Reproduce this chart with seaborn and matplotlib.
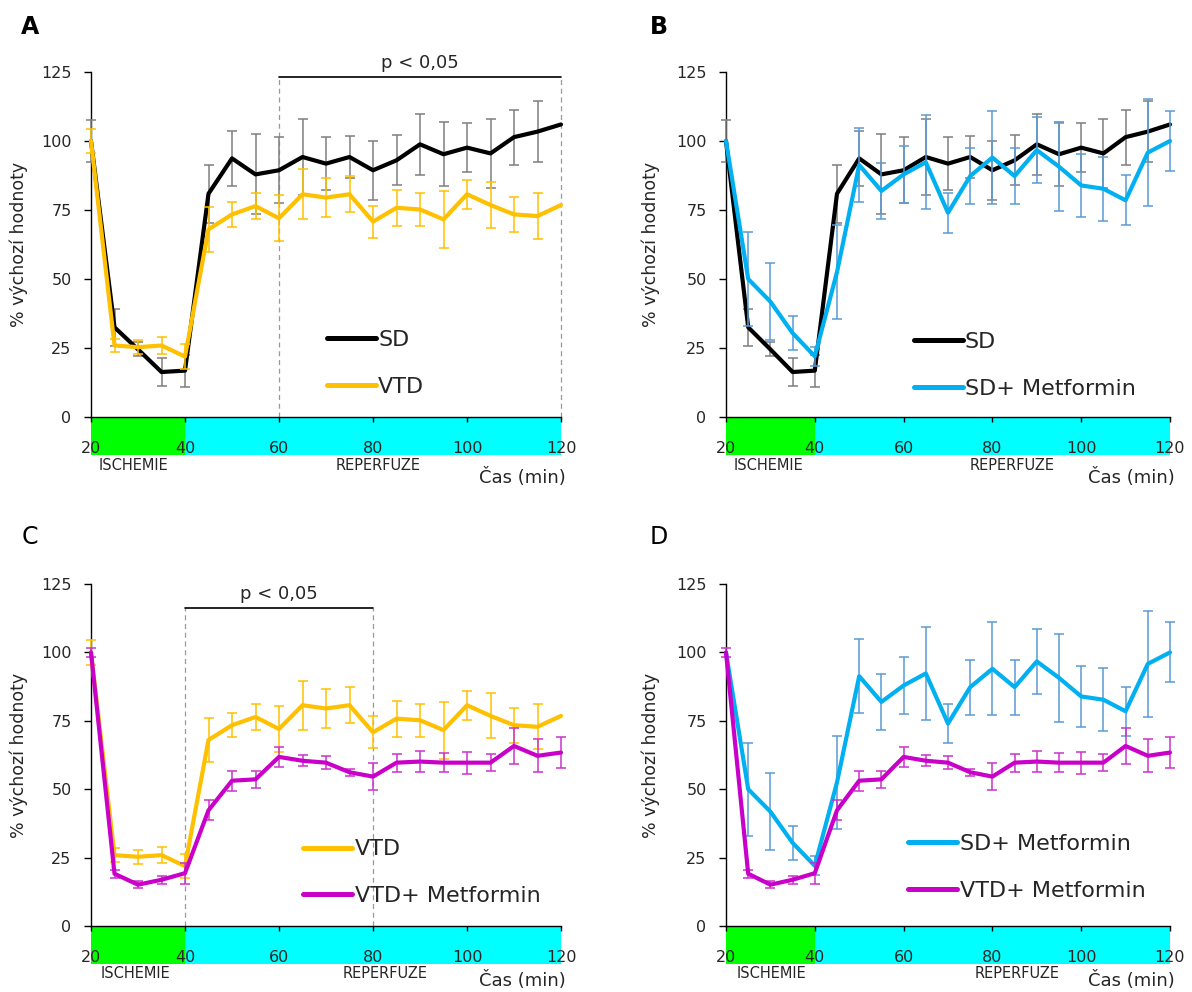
import matplotlib
matplotlib.use("Agg")
import matplotlib.pyplot as plt
from matplotlib.patches import Rectangle
from matplotlib.lines import Line2D
import numpy as np
import pandas as pd
import seaborn as sns

# Time points (min) and group means / SEM (% of baseline)
time_min = list(range(20, 121, 5))

sd_mean = [100, 32.5, 24.5, 16.3, 16.8, 80.9, 93.7, 87.9, 89.4, 94.2, 91.8,
           94.2, 89.4, 93.0, 98.8, 95.2, 97.6, 95.5, 101.4, 103.4, 106.0]
sd_err = [7.5, 6.8, 2.5, 5.0, 5.8, 10.5, 10.0, 14.5, 12.0, 13.8, 9.5,
          7.7, 10.6, 9.0, 11.0, 11.6, 9.0, 12.5, 10.0, 11.0, 0]

vtd_mean = [100, 25.9, 25.3, 25.9, 21.9, 68.0, 73.4, 76.4, 72.0, 80.7, 79.5,
            80.7, 70.8, 75.8, 75.2, 71.6, 80.7, 76.8, 73.4, 72.8, 76.8]
vtd_err = [4.5, 2.5, 2.5, 3.0, 4.5, 8.2, 4.5, 4.8, 8.3, 9.0, 7.2,
           6.6, 5.8, 6.6, 6.0, 10.4, 5.3, 8.2, 6.4, 8.2, 0]

sdm_mean = [100, 50.0, 41.8, 30.4, 22.0, 52.5, 91.3, 81.9, 87.9, 92.3, 74.0,
            87.3, 94.0, 87.3, 96.7, 90.7, 83.9, 82.7, 78.5, 95.8, 100.0]
sdm_err = [0, 17.0, 14.0, 6.2, 3.5, 17.0, 13.5, 10.3, 10.4, 17.0, 7.2,
           10.0, 17.0, 10.0, 12.0, 16.0, 11.3, 11.6, 9.0, 19.5, 11.0]

vtdm_mean = [100, 19.1, 15.1, 16.9, 19.3, 42.3, 53.1, 53.6, 61.8, 60.4, 59.7,
             56.2, 54.6, 59.7, 60.1, 59.7, 59.7, 59.7, 65.8, 62.2, 63.4]
vtdm_err = [1.5, 1.5, 1.2, 1.5, 3.8, 3.6, 3.6, 3.0, 3.6, 2.0, 2.4,
            1.3, 5.0, 3.3, 3.8, 3.4, 4.0, 3.0, 6.5, 6.0, 5.5]

group_labels = ["SD", "VTD", "SD+ Metformin", "VTD+ Metformin"]
line_colors = ["#000000", "#FFC000", "#00B0F0", "#C800C8"]
err_colors = ["#7F7F7F", "#FFC000", "#5B9BD5", "#CC33CC"]

y_ticks = [0, 25, 50, 75, 100, 125]
x_ticks = [20, 40, 60, 80, 100, 120]

frames = []
for lab, m, e in zip(group_labels, [sd_mean, vtd_mean, sdm_mean, vtdm_mean],
                     [sd_err, vtd_err, sdm_err, vtdm_err]):
    frames.append(pd.DataFrame({"time": time_min, "mean": m, "sem": e, "group": lab}))
df = pd.concat(frames, ignore_index=True)
style = {g: (lc, ec) for g, lc, ec in zip(group_labels, line_colors, err_colors)}

sns.set_theme(style="ticks")
plt.rcParams["font.family"] = ["DejaVu Sans"]
plt.rcParams["axes.linewidth"] = 1.0

fig = plt.figure(figsize=(11.92, 9.92), dpi=100)
W, H = 1192.0, 992.0


def make_axes(x0, x1, y_top, y_bot):
    return fig.add_axes([x0 / W, 1 - y_bot / H, (x1 - x0) / W, (y_bot - y_top) / H])


panels = [
    dict(ax=make_axes(91, 561, 72, 417), groups=["SD", "VTD"], letter="A", bold=True,
         letter_xy=(30, 27), leg=(0.502, 0.156), sig=(60, 120, 123.2),
         isch=29.0, rep=81.0, cas_y=-0.174),
    dict(ax=make_axes(726, 1170, 72, 417), groups=["SD", "SD+ Metformin"], letter="B", bold=True,
         letter_xy=(659, 27), leg=(0.423, 0.150), sig=None,
         isch=29.5, rep=84.5, cas_y=-0.174),
    dict(ax=make_axes(91, 561, 584, 926), groups=["VTD", "VTD+ Metformin"], letter="C", bold=False,
         letter_xy=(30, 537), leg=(0.452, 0.156), sig=(40, 80, 116.3),
         isch=29.4, rep=82.5, cas_y=-0.160),
    dict(ax=make_axes(726, 1170, 584, 926), groups=["SD+ Metformin", "VTD+ Metformin"], letter="D", bold=False,
         letter_xy=(659, 537), leg=(0.411, 0.172), sig=None,
         isch=30.2, rep=85.5, cas_y=-0.160),
]

text_col = "#262626"

for p in panels:
    ax = p["ax"]
    handles = []
    for k, g in enumerate(p["groups"]):
        sub = df[df["group"] == g]
        lc, ec = style[g]
        z = 3 + 2 * k
        has_err = sub["sem"] > 0
        ax.errorbar(sub["time"][has_err], sub["mean"][has_err], yerr=sub["sem"][has_err],
                    fmt="none", ecolor=ec, elinewidth=1.1, capsize=3.5, capthick=1.1,
                    zorder=z, clip_on=False)
        sns.lineplot(data=sub, x="time", y="mean", color=lc, lw=3.0, ax=ax,
                     legend=False, zorder=z + 1, clip_on=False)
        handles.append(Line2D([0], [0], color=lc, lw=3.6, solid_capstyle="round"))

    ax.set_xlim(20, 120)
    ax.set_ylim(0, 125)
    ax.set_xticks(x_ticks)
    ax.set_yticks(y_ticks)
    ax.set_xlabel("")
    ax.set_ylabel("% výchozí hodnoty", fontsize=12.5, color=text_col)
    ax.yaxis.set_label_coords(-0.135 if p["letter"] in "AC" else -0.148, 0.5)
    sns.despine(ax=ax)
    for s in ("left", "bottom"):
        ax.spines[s].set_color("black")
        ax.spines[s].set_linewidth(1.0)
    ax.tick_params(axis="x", direction="out", length=3.5, width=1, pad=13.5,
                   labelsize=11.5, labelcolor=text_col, color="black")
    ax.tick_params(axis="y", direction="out", length=5, width=1, pad=9,
                   labelsize=11.5, labelcolor=text_col, color="black")

    # ischemia / reperfusion band under the time axis
    trans = ax.get_xaxis_transform()
    band_h = 37.0 / (ax.get_position().height * H)
    ax.add_patch(Rectangle((20, -band_h - 0.003), 20, band_h, transform=trans,
                           facecolor="#00FF00", edgecolor="none", clip_on=False, zorder=0.5))
    ax.add_patch(Rectangle((40, -band_h - 0.003), 80, band_h, transform=trans,
                           facecolor="#00FFFF", edgecolor="none", clip_on=False, zorder=0.5))
    ax.text(p["isch"], -0.14, "ISCHEMIE", transform=trans, ha="center", va="center",
            fontsize=10.5, color=text_col)
    ax.text(p["rep"], -0.14, "REPERFUZE", transform=trans, ha="center", va="center",
            fontsize=10.5, color=text_col)
    ax.text(121, p["cas_y"], "Čas (min)", transform=trans, ha="right", va="center",
            fontsize=13, color=text_col)

    # significance bracket
    if p["sig"] is not None:
        x0, x1, yb = p["sig"]
        ax.plot([x0, x1], [yb, yb], color="black", lw=1.2, clip_on=False, zorder=6)
        for xv in (x0, x1):
            ax.plot([xv, xv], [0, yb], color="#999999", lw=0.9, ls=(0, (4, 3)),
                    clip_on=False, zorder=1)
        ax.text((x0 + x1) / 2, yb + 5.1, "p < 0,05", ha="center", va="center",
                fontsize=13, color=text_col)

    leg = ax.legend(handles, p["groups"], loc="center left", bbox_to_anchor=p["leg"],
                    frameon=False, fontsize=16, handlelength=2.2, handletextpad=0.1,
                    labelspacing=1.2, borderpad=0, borderaxespad=0)
    for t in leg.get_texts():
        t.set_color(text_col)

    lx, ly = p["letter_xy"]
    fig.text(lx / W, 1 - ly / H, p["letter"], ha="center", va="center",
             fontsize=17, fontweight="bold" if p["bold"] else "normal", color="black")

fig.savefig("out.png", dpi=100)
